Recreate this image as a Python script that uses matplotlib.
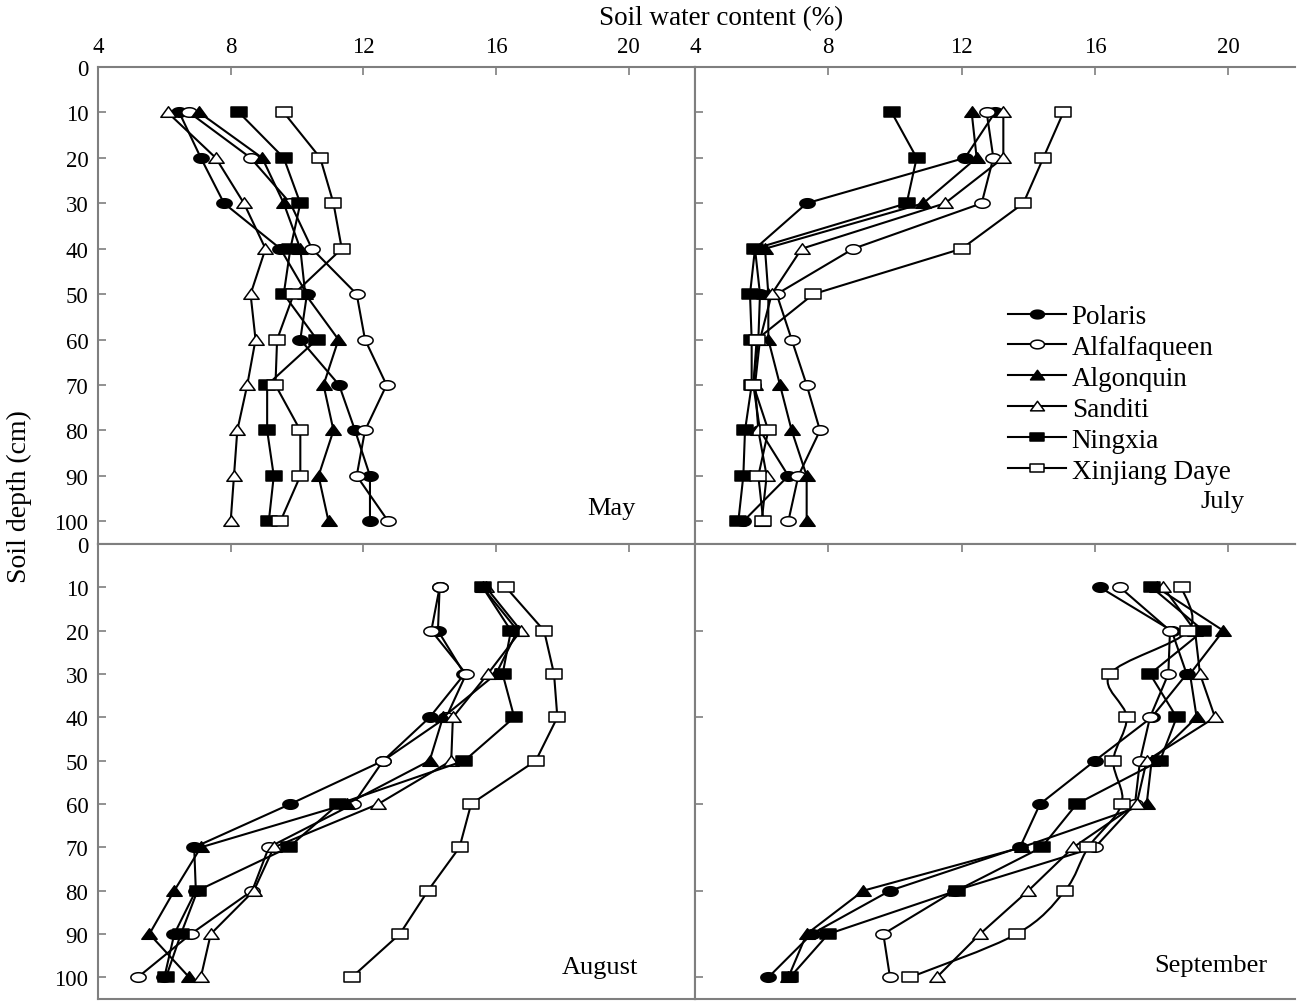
import numpy as np
import matplotlib
matplotlib.use("Agg")
import matplotlib.pyplot as plt
from matplotlib.path import Path
from matplotlib.patches import PathPatch
from matplotlib.lines import Line2D

plt.rcParams['font.family'] = ['Liberation Serif', 'DejaVu Serif']

# ---------------- data ----------------
depths = [10, 20, 30, 40, 50, 60, 70, 80, 90, 100]
cultivars = ["Polaris", "Alfalfaqueen", "Algonquin", "Sanditi", "Ningxia", "Xinjiang Daye"]
month_names = ["May", "July", "August", "September"]
x_ticks = [4, 8, 12, 16, 20]
y_ticks = [0, 10, 20, 30, 40, 50, 60, 70, 80, 90, 100]

may_polaris   = [6.45, 7.1, 7.8, 9.5, 10.3, 10.1, 11.27, 11.75, 12.2, 12.2]
may_alfalfa   = [6.75, 8.6, 9.8, 10.45, 11.8, 12.05, 12.7, 12.05, 11.8, 12.75]
may_algonquin = [7.05, 8.95, 9.6, 10.1, 10.25, 11.25, 10.8, 11.1, 10.65, 10.95]
may_sanditi   = [6.1, 7.55, 8.4, 9.05, 8.6, 8.75, 8.5, 8.2, 8.1, 8.0]
may_ningxia   = [8.25, 9.6, 10.1, 9.8, 9.6, 10.6, 9.1, 9.1, 9.3, 9.15]
may_xinjiang  = [9.6, 10.7, 11.1, 11.35, 9.9, 9.4, 9.35, 10.1, 10.1, 9.5]

jul_polaris   = [13.0, 12.1, 7.35, 5.8, 5.95, 5.9, 5.75, 5.95, 6.8, 5.45]
jul_alfalfa   = [12.75, 12.95, 12.6, 8.75, 6.45, 6.9, 7.35, 7.75, 7.1, 6.8]
jul_algonquin = [12.3, 12.45, 10.85, 6.1, 6.2, 6.2, 6.55, 6.9, 7.35, 7.35]
jul_sanditi   = [13.25, 13.25, 11.5, 7.2, 6.3, 5.95, 5.8, 5.9, 6.15, 6.0]
jul_ningxia   = [9.9, 10.65, 10.35, 5.8, 5.65, 5.7, 5.7, 5.5, 5.45, 5.3]
jul_xinjiang  = [15.05, 14.45, 13.85, 12.0, 7.55, 5.85, 5.75, 6.2, 5.9, 6.05]

aug_polaris   = [14.3, 14.25, 15.05, 14.0, 12.6, 9.8, 6.9, 6.95, 6.3, 6.0]
aug_alfalfa   = [14.3, 14.05, 15.1, 14.5, 12.6, 11.7, 9.15, 8.65, 6.8, 5.2]
aug_algonquin = [15.6, 16.65, 16.0, 14.4, 14.0, 11.5, 7.1, 6.3, 5.55, 6.75]
aug_sanditi   = [15.7, 16.75, 15.75, 14.7, 14.65, 12.45, 9.3, 8.7, 7.4, 7.1]
aug_ningxia   = [15.6, 16.45, 16.2, 16.55, 15.05, 11.25, 9.75, 7.0, 6.5, 6.05]
aug_xinjiang  = [16.3, 17.45, 17.75, 17.85, 17.2, 15.25, 14.9, 13.95, 13.1, 11.65]

sep_polaris   = [16.15, 18.3, 18.75, 17.7, 16.0, 14.35, 13.75, 9.85, 7.5, 6.2]
sep_alfalfa   = [16.75, 18.25, 18.2, 17.65, 17.35, 17.2, 16.0, 11.8, 9.65, 9.85]
sep_algonquin = [17.85, 19.85, 18.85, 19.05, 17.7, 17.55, 13.8, 9.05, 7.35, 6.8]
sep_sanditi   = [18.05, 19.0, 19.15, 19.6, 17.55, 17.25, 15.35, 14.0, 12.55, 11.25]
sep_ningxia   = [17.7, 19.25, 17.65, 18.45, 17.95, 15.45, 14.4, 11.85, 8.0, 6.85]
sep_xinjiang  = [18.6, 18.8, 16.45, 16.95, 16.55, 16.8, 15.8, 15.1, 13.65, 10.45]

months = [
    [may_polaris, may_alfalfa, may_algonquin, may_sanditi, may_ningxia, may_xinjiang],
    [jul_polaris, jul_alfalfa, jul_algonquin, jul_sanditi, jul_ningxia, jul_xinjiang],
    [aug_polaris, aug_alfalfa, aug_algonquin, aug_sanditi, aug_ningxia, aug_xinjiang],
    [sep_polaris, sep_alfalfa, sep_algonquin, sep_sanditi, sep_ningxia, sep_xinjiang],
]

# ---------------- marker shapes (horizontally stretched like the source) ----------------
t = np.linspace(0, 2 * np.pi, 41)
ellipse = Path(np.column_stack([0.8 * np.cos(t), 0.5 * np.sin(t)]), closed=True)
rect = Path([[-0.8, -0.5], [0.8, -0.5], [0.8, 0.5], [-0.8, 0.5], [-0.8, -0.5]], closed=True)
tri = Path([[-0.8, -0.5], [0.8, -0.5], [0.0, 0.6], [-0.8, -0.5]], closed=True)

styles = [
    dict(marker=ellipse, mfc='black'),
    dict(marker=ellipse, mfc='white'),
    dict(marker=tri, mfc='black'),
    dict(marker=tri, mfc='white'),
    dict(marker=rect, mfc='black'),
    dict(marker=rect, mfc='white'),
]


def smooth_path(ax, xs, ys):
    """Excel-like smoothed line (Catmull-Rom as cubic Bezier), drawn in screen space."""
    pts = ax.transData.transform(np.column_stack([xs, ys]))
    n = len(pts)
    verts = [pts[0]]
    codes = [Path.MOVETO]
    for k in range(n - 1):
        p0 = pts[k - 1] if k > 0 else pts[k]
        p1, p2 = pts[k], pts[k + 1]
        p3 = pts[k + 2] if k + 2 < n else pts[k + 1]
        c1 = p1 + (p2 - p0) / 6.0
        c2 = p2 - (p3 - p1) / 6.0
        verts += [c1, c2, p2]
        codes += [Path.CURVE4] * 3
    return Path(np.array(verts), codes)


W, H = 1304, 1004
fig = plt.figure(figsize=(W / 100, H / 100), dpi=100)


def add_ax(x0, y0, x1, y1):
    return fig.add_axes([x0 / W, 1 - y1 / H, (x1 - x0) / W, (y1 - y0) / H])


boxes = [(98, 68, 695, 545), (695, 68, 1295, 545), (98, 545, 695, 1000), (695, 545, 1295, 1000)]
label_pos = [(0.86, 0.075), (0.88, 0.09), (0.84, 0.07), (0.86, 0.075)]
spine_col = '#7f7f7f'

axes = []
for i, box in enumerate(boxes):
    ax = add_ax(*box)
    axes.append(ax)
    ax.set_xlim(4, 22)
    ax.set_ylim(105, 0)
    for j, series in enumerate(months[i]):
        smooth = (i == 3 and j == 5)
        if smooth:
            p = smooth_path(ax, series, depths)
            ax.add_patch(PathPatch(p, transform=None, facecolor='none', edgecolor='black',
                                   lw=1.5, zorder=2))
            ax.plot(series, depths, ls='none', ms=11, mec='black', mew=1.1, zorder=2.5, **styles[j])
        else:
            ax.plot(series, depths, color='black', lw=1.5, ms=11, mec='black', mew=1.1,
                    label=cultivars[j], **styles[j])
    ax.set_xticks(x_ticks)
    if i == 3:
        ax.set_yticks(y_ticks[::2])
    else:
        ax.set_yticks(y_ticks)
    ax.xaxis.tick_top()
    ax.tick_params(axis='both', direction='in', length=6, width=1.2, color=spine_col,
                   labelsize=16.5, pad=7)
    ax.tick_params(axis='x', labeltop=(i < 2), labelbottom=False)
    ax.tick_params(axis='y', labelleft=(i % 2 == 0))
    for s in ax.spines.values():
        s.set_color(spine_col)
        s.set_linewidth(1.5)
    if i % 2 == 1:
        ax.spines['right'].set_visible(False)
    ax.text(label_pos[i][0], label_pos[i][1], month_names[i], transform=ax.transAxes,
            ha='center', va='center', fontsize=19)

fig.text(721 / W, 1 - 19 / H, "Soil water content (%)", ha='center', va='center', fontsize=19.5)
fig.text(19 / W, 1 - 497 / H, "Soil depth (cm)", ha='center', va='center', rotation=90, fontsize=20)

handles = [Line2D([], [], color='black', lw=1.5, ms=10, mec='black', mew=1.1, **st) for st in styles]
leg = axes[1].legend(handles, cultivars, loc='upper left',
                     bbox_to_anchor=((1008 - 695) / 600, 1 - (305 - 68) / 477),
                     frameon=False, fontsize=19.5, handlelength=2.15, handletextpad=0.2,
                     labelspacing=0.22, borderpad=0, borderaxespad=0)

fig.savefig("out.png", dpi=100)
